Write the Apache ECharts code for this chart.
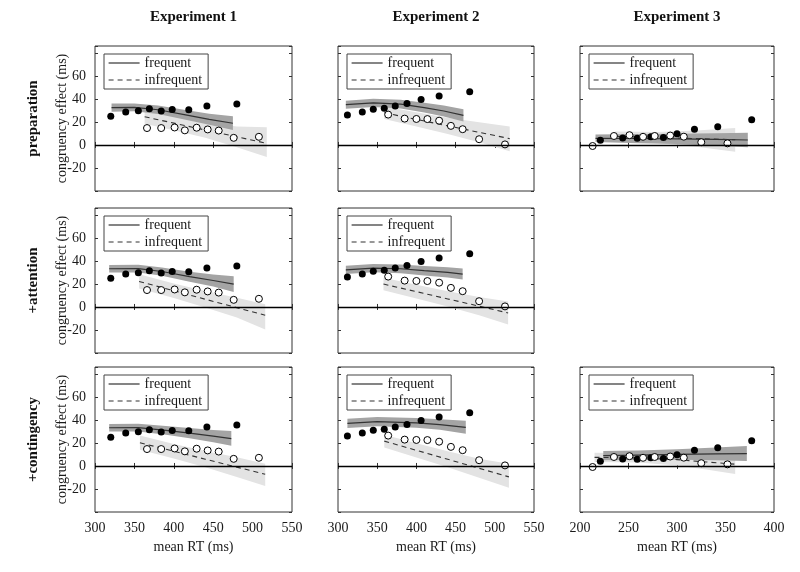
<!DOCTYPE html>
<html>
<head>
<meta charset="utf-8">
<script src="https://cdn.jsdelivr.net/npm/echarts@6.0.0/dist/echarts.min.js"></script>
<style>html,body{margin:0;padding:0;background:#fff}#main{width:800px;height:572px}</style>
</head>
<body>
<div id="main"></div>
<script>
// observed congruency effects [mean RT, effect] - same data in every row
var exp1FreqObs = [[320,24.9],[339,28.7],[355,29.8],[369,31.5],[384,29.5],[398,30.8],[419,30.7],[442,33.9],[480,35.7]];
var exp1InfObs  = [[366,14.7],[384,14.7],[401,15.2],[414,12.7],[429,15.0],[443,13.5],[457,12.5],[476,6.2],[508,7.1]];
var exp2FreqObs = [[312,26.1],[331,28.7],[345,31.0],[359,31.8],[373,33.8],[388,36.1],[406,39.5],[429,42.6],[468,46.2]];
var exp2InfObs  = [[364,26.4],[385,22.9],[400,22.6],[414,22.5],[429,21.1],[444,16.6],[459,13.7],[480,5.0],[513,0.5]];
var exp3FreqObs = [[221,4.0],[244,6.0],[259,5.8],[273,7.2],[286,6.5],[300,9.8],[318,13.7],[342,15.9],[377,22.0]];
var exp3InfObs  = [[213,-0.9],[235,7.8],[251,8.5],[265,7.1],[277,7.8],[293,8.2],[307,7.2],[325,2.4],[352,1.4]];

// model fits [mean RT, fit, lower, upper]
var e1PrepFreqFit = [[321,32.5,28.9,36.1],[350,32.6,29.2,36.0],[380,30.6,27.0,34.3],[415,26.2,22.0,30.4],[445,22.3,17.5,27.1],[475,18.9,12.9,25.0]];
var e1PrepInfFit  = [[363,24.5,18.5,30.5],[400,19.0,12.8,25.3],[440,13.0,6.2,19.8],[480,7.1,-2.0,16.0],[518,1.4,-10.5,15.5]];
var e2PrepFreqFit = [[310,35.0,31.5,38.5],[345,36.6,33.0,40.2],[380,35.5,31.7,39.3],[410,32.5,28.3,36.7],[435,29.5,24.8,34.2],[460,25.7,20.5,31.0]];
var e2PrepInfFit  = [[359,28.0,22.5,33.5],[400,22.2,16.0,28.4],[440,16.6,9.5,23.7],[480,11.0,2.3,19.7],[519,5.5,-5.5,16.0]];
var e3PrepFreqFit = [[216,5.8,2.6,9.0],[260,5.6,1.6,9.6],[300,5.3,0.8,9.8],[340,4.8,-0.6,10.2],[373,4.3,-2.0,10.6]];
var e3PrepInfFit  = [[236,7.5,3.3,11.7],[280,6.5,1.8,11.2],[320,5.5,-1.5,12.5],[360,4.5,-5.8,14.8]];
var e1AttFreqFit  = [[318,33.2,29.9,36.5],[355,33.3,30.0,36.6],[385,30.8,27.2,34.4],[420,26.3,22.0,30.6],[450,23.0,17.8,28.2],[476,19.9,13.0,26.8]];
var e1AttInfFit   = [[356,22.2,16.0,28.4],[400,14.1,7.8,20.4],[440,6.7,-0.4,13.8],[480,-0.6,-9.2,8.0],[516,-7.2,-19.5,2.3]];
var e2AttFreqFit  = [[310,32.3,28.7,35.9],[345,33.8,30.2,37.4],[380,33.2,29.4,37.0],[410,31.5,27.4,35.6],[440,30.0,25.5,34.5],[459,28.6,23.8,33.4]];
var e2AttInfFit   = [[358,19.9,14.5,25.3],[400,13.3,7.4,19.2],[440,7.0,0.3,13.7],[480,0.7,-7.3,8.7],[517,-5.2,-15.3,4.8]];
var e1ContFreqFit = [[318,33.2,29.9,36.5],[355,33.3,29.9,36.7],[390,31.0,27.2,34.8],[420,28.5,24.1,32.9],[450,26.0,20.7,31.3],[473,23.7,17.5,30.3]];
var e1ContInfFit  = [[357,20.2,14.0,26.4],[400,12.8,6.5,19.1],[440,5.9,-1.2,13.0],[480,-1.0,-9.6,7.6],[516,-7.2,-17.5,2.0]];
var e2ContFreqFit = [[312,37.0,33.0,41.0],[350,38.5,34.5,42.5],[400,37.5,33.3,41.7],[430,36.0,31.4,40.6],[463,33.6,28.0,39.2]];
var e2ContInfFit  = [[359,21.6,16.0,27.2],[400,13.6,7.4,19.8],[440,5.8,-1.2,12.8],[480,-2.0,-10.2,6.2],[518,-9.5,-19.0,2.0]];
var e3ContFreqFit = [[224,9.0,5.0,13.0],[260,9.5,5.5,13.5],[300,10.0,5.5,14.5],[340,10.5,5.0,16.0],[372,10.8,4.3,17.3]];
var e3ContInfFit  = [[215,7.5,3.5,11.5],[260,7.0,3.0,11.0],[300,5.5,0.5,10.5],[330,3.5,-3.0,10.0],[360,1.5,-7.0,10.0]];

var experiments = ['Experiment 1', 'Experiment 2', 'Experiment 3'];
var models = ['preparation', '+attention', '+contingency'];
var xTicks = [[300, 550], [300, 550], [200, 400]];

var panels = [
  {r:0, c:0, fo:exp1FreqObs, io:exp1InfObs, ff:e1PrepFreqFit, inf:e1PrepInfFit},
  {r:0, c:1, fo:exp2FreqObs, io:exp2InfObs, ff:e2PrepFreqFit, inf:e2PrepInfFit},
  {r:0, c:2, fo:exp3FreqObs, io:exp3InfObs, ff:e3PrepFreqFit, inf:e3PrepInfFit},
  {r:1, c:0, fo:exp1FreqObs, io:exp1InfObs, ff:e1AttFreqFit, inf:e1AttInfFit},
  {r:1, c:1, fo:exp2FreqObs, io:exp2InfObs, ff:e2AttFreqFit, inf:e2AttInfFit},
  {r:2, c:0, fo:exp1FreqObs, io:exp1InfObs, ff:e1ContFreqFit, inf:e1ContInfFit},
  {r:2, c:1, fo:exp2FreqObs, io:exp2InfObs, ff:e2ContFreqFit, inf:e2ContInfFit},
  {r:2, c:2, fo:exp3FreqObs, io:exp3InfObs, ff:e3ContFreqFit, inf:e3ContInfFit}
];

var FONT = '"Liberation Serif", "Times New Roman", serif';
var TXT = '#1a1a1a';
var colLeft = [95, 338, 580], colWidth = [197, 196, 194];
var rowTop = [46, 208, 367], rowHeight = 145;

function band(fit, fill) {
  return function (params, api) {
    if (params.dataIndex !== 0) return null;
    var up = fit.map(function (d) { return api.coord([d[0], d[3]]); });
    var lo = fit.map(function (d) { return api.coord([d[0], d[2]]); }).reverse();
    return { type: 'polygon', shape: { points: up.concat(lo) }, style: { fill: fill }, silent: true };
  };
}

var grid = [], xAxis = [], yAxis = [], series = [], legend = [];

panels.forEach(function (p, k) {
  grid.push({ left: colLeft[p.c], top: rowTop[p.r], width: colWidth[p.c], height: rowHeight,
    show: true, borderColor: '#333', borderWidth: 1 });
  var tick = { inside: true, length: 3, lineStyle: { color: '#333' } };
  var bottom = p.r === 2;
  xAxis.push({ gridIndex: k, type: 'value', position: 'bottom', min: xTicks[p.c][0], max: xTicks[p.c][1], interval: 50,
    axisLine: { show: false }, axisTick: tick, splitLine: { show: false },
    axisLabel: { show: bottom, fontFamily: FONT, fontSize: 14, color: TXT, margin: 9 },
    name: bottom ? 'mean RT (ms)' : '', nameLocation: 'middle', nameGap: 28,
    nameTextStyle: { fontFamily: FONT, fontSize: 14, color: TXT } });
  xAxis.push({ gridIndex: k, type: 'value', position: 'top', min: xTicks[p.c][0], max: xTicks[p.c][1], interval: 50,
    axisLine: { show: false }, axisTick: tick, splitLine: { show: false }, axisLabel: { show: false } });
  var first = p.c === 0;
  yAxis.push({ gridIndex: k, type: 'value', position: 'left', min: -40, max: 86, interval: 20,
    axisLine: { show: false }, axisTick: tick, splitLine: { show: false },
    axisLabel: { show: first, fontFamily: FONT, fontSize: 14, color: TXT, margin: 9,
      formatter: function (v) { return (v >= -20 && v <= 60 && v % 20 === 0) ? String(v) : ''; } },
    name: first ? 'congruency effect (ms)' : '', nameLocation: 'middle', nameGap: 26, nameRotate: 90,
    nameMoveOverlap: false,
    nameTextStyle: { fontFamily: FONT, fontSize: 14, color: TXT } });
  yAxis.push({ gridIndex: k, type: 'value', position: 'right', min: -40, max: 86, interval: 20,
    axisLine: { show: false }, axisTick: tick, splitLine: { show: false }, axisLabel: { show: false } });

  var xi = 2 * k, yi = 2 * k;
  series.push({ type: 'custom', xAxisIndex: xi, yAxisIndex: yi, silent: true, z: 1,
    renderItem: band(p.inf, '#e3e3e3'), data: p.inf.map(function (d) { return [d[0], d[1]]; }) });
  series.push({ type: 'custom', xAxisIndex: xi, yAxisIndex: yi, silent: true, z: 2,
    renderItem: band(p.ff, '#a4a4a4'), data: p.ff.map(function (d) { return [d[0], d[1]]; }) });
  series.push({ name: 'frequent', type: 'line', xAxisIndex: xi, yAxisIndex: yi, z: 3,
    symbol: 'none', silent: true, data: p.ff.map(function (d) { return [d[0], d[1]]; }),
    lineStyle: { color: '#333', width: 1.2 }, itemStyle: { color: '#333' },
    markLine: { silent: true, symbol: 'none', label: { show: false }, animation: false,
      lineStyle: { color: '#000', width: 1.3, type: 'solid' }, data: [{ yAxis: 0 }] } });
  series.push({ name: 'infrequent', type: 'line', xAxisIndex: xi, yAxisIndex: yi, z: 3,
    symbol: 'none', silent: true, data: p.inf.map(function (d) { return [d[0], d[1]]; }),
    lineStyle: { color: '#333', width: 1.1, type: [5, 4] }, itemStyle: { color: '#333' } });
  series.push({ name: 'frequent data', type: 'scatter', xAxisIndex: xi, yAxisIndex: yi, z: 4,
    symbolSize: 7, data: p.fo, itemStyle: { color: '#000', opacity: 1 } });
  series.push({ name: 'infrequent data', type: 'scatter', xAxisIndex: xi, yAxisIndex: yi, z: 4,
    symbolSize: 7, data: p.io, itemStyle: { color: '#fff', borderColor: '#000', borderWidth: 1, opacity: 1 } });

  legend.push({ left: colLeft[p.c] + 9, top: rowTop[p.r] + 8, orient: 'vertical',
    data: ['frequent', 'infrequent'], selectedMode: false,
    itemWidth: 31, itemHeight: 14, itemGap: 3, padding: [2, 6, 2, 4],
    borderColor: '#444', borderWidth: 1, backgroundColor: '#fff',
    itemStyle: { opacity: 0 }, lineStyle: { width: 1.2 },
    textStyle: { fontFamily: FONT, fontSize: 14, color: TXT } });
});

var graphic = [];
experiments.forEach(function (t, c) {
  graphic.push({ type: 'text', x: colLeft[c] + colWidth[c] / 2, y: 17,
    style: { text: t, font: 'bold 15px ' + FONT, fill: '#111', textAlign: 'center', textVerticalAlign: 'middle', align: 'center', verticalAlign: 'middle' } });
});
models.forEach(function (t, r) {
  graphic.push({ type: 'text', x: 33, y: rowTop[r] + rowHeight / 2, rotation: Math.PI / 2,
    style: { text: t, font: 'bold 15px ' + FONT, fill: '#111', textAlign: 'center', textVerticalAlign: 'middle', align: 'center', verticalAlign: 'middle' } });
});

var chart = echarts.init(document.getElementById('main'));
chart.setOption({
  animation: false,
  backgroundColor: '#fff',
  grid: grid, xAxis: xAxis, yAxis: yAxis, legend: legend, series: series, graphic: graphic
});
</script>
</body>
</html>
